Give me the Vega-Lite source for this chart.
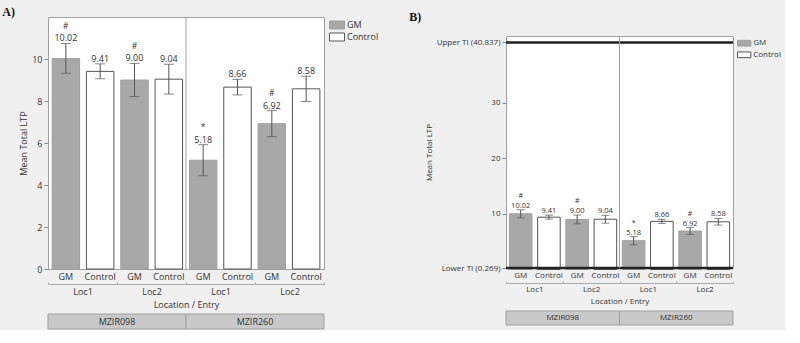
{
  "$schema": "https://vega.github.io/schema/vega-lite/v6.json",
  "background": "#f0f0f0",
  "padding": {"top": 5, "left": 1, "right": 0, "bottom": 0},
  "config": {
    "font": "Open Sans",
    "view": {"fill": "white", "stroke": "#a0a0a0"},
    "axis": {"labelColor": "#333", "titleColor": "#333", "titleFontWeight": "normal", "tickColor": "#888", "domain": false, "grid": false, "labelFont": "Open Sans", "titleFont": "Open Sans"},
    "legend": {"labelColor": "#333", "labelFont": "Open Sans"}
  },
  "datasets": {
    "ltp": [
      {"mzir": "MZIR098", "site": "MZIR098|Loc1", "bar": "MZIR098|Loc1|GM", "entry": "GM", "mean": 10.02, "lo": 9.32, "hi": 10.74, "flag": "#"},
      {"mzir": "MZIR098", "site": "MZIR098|Loc1", "bar": "MZIR098|Loc1|Control", "entry": "Control", "mean": 9.41, "lo": 9.06, "hi": 9.77, "flag": ""},
      {"mzir": "MZIR098", "site": "MZIR098|Loc2", "bar": "MZIR098|Loc2|GM", "entry": "GM", "mean": 9.00, "lo": 8.21, "hi": 9.79, "flag": "#"},
      {"mzir": "MZIR098", "site": "MZIR098|Loc2", "bar": "MZIR098|Loc2|Control", "entry": "Control", "mean": 9.04, "lo": 8.33, "hi": 9.75, "flag": ""},
      {"mzir": "MZIR260", "site": "MZIR260|Loc1", "bar": "MZIR260|Loc1|GM", "entry": "GM", "mean": 5.18, "lo": 4.44, "hi": 5.92, "flag": "*"},
      {"mzir": "MZIR260", "site": "MZIR260|Loc1", "bar": "MZIR260|Loc1|Control", "entry": "Control", "mean": 8.66, "lo": 8.29, "hi": 9.03, "flag": ""},
      {"mzir": "MZIR260", "site": "MZIR260|Loc2", "bar": "MZIR260|Loc2|GM", "entry": "GM", "mean": 6.92, "lo": 6.30, "hi": 7.54, "flag": "#"},
      {"mzir": "MZIR260", "site": "MZIR260|Loc2", "bar": "MZIR260|Loc2|Control", "entry": "Control", "mean": 8.58, "lo": 7.98, "hi": 9.18, "flag": ""}
    ],
    "limits": [
      {"limit": "Lower TI", "value": 0.269},
      {"limit": "Upper TI", "value": 40.837}
    ],
    "entries": [
      {"mzir": "MZIR098"},
      {"mzir": "MZIR260"}
    ]
  },
  "hconcat": [
    {
      "vconcat": [
        {
          "title": {"text": "A)", "orient": "left", "anchor": "end", "angle": 0, "align": "right", "baseline": "top", "font": "Liberation Serif", "fontWeight": "bold", "fontSize": 12, "color": "#111", "offset": -8, "dy": -10},
          "width": 276,
          "height": 252,
          "data": {"name": "ltp"},
          "layer": [
            {
              "layer": [
                {
                  "mark": {"type": "bar", "strokeWidth": 1},
                  "encoding": {
                    "x": {"field": "bar", "type": "nominal", "sort": null,
                      "scale": {"paddingInner": 0.2, "paddingOuter": 0.12},
                      "axis": {"orient": "bottom", "labelExpr": "split(datum.label, '|')[2]", "ticks": false, "labelAngle": 0, "labelPadding": 3, "labelFontSize": 9, "title": null}},
                    "y": {"field": "mean", "type": "quantitative", "title": "Mean Total LTP",
                      "scale": {"domain": [0, 12], "nice": false},
                      "axis": {"values": [0, 2, 4, 6, 8, 10], "tickSize": 4, "labelFontSize": 9, "titleFontSize": 9, "labelPadding": 2, "titlePadding": 3}},
                    "color": {"field": "entry", "type": "nominal", "title": null,
                      "scale": {"domain": ["GM", "Control"], "range": ["#a8a8a8", "#ffffff"]},
                      "legend": {"orient": "right", "offset": 5, "padding": 3, "symbolType": "M-1.67,-0.89H1.67V0.89H-1.67Z", "symbolSize": 81, "symbolStrokeWidth": 1, "labelFontSize": 9, "labelOffset": 5, "rowPadding": -4.3}},
                    "stroke": {"field": "entry", "type": "nominal", "title": null,
                      "scale": {"domain": ["GM", "Control"], "range": ["#a0a0a0", "#555555"]},
                      "legend": {"orient": "right", "offset": 5, "padding": 3, "symbolType": "M-1.67,-0.89H1.67V0.89H-1.67Z", "symbolSize": 81, "symbolStrokeWidth": 1, "labelFontSize": 9, "labelOffset": 5, "rowPadding": -4.3}}
                  }
                },
                {
                  "mark": {"type": "errorbar", "ticks": {"size": 10, "color": "#555"}, "rule": {"color": "#555"}},
                  "encoding": {
                    "x": {"field": "bar", "type": "nominal", "sort": null},
                    "y": {"field": "lo", "type": "quantitative", "title": "Mean Total LTP"},
                    "y2": {"field": "hi"}
                  }
                },
                {
                  "mark": {"type": "text", "dy": -2, "baseline": "alphabetic", "fontSize": 9, "color": "#333"},
                  "encoding": {
                    "x": {"field": "bar", "type": "nominal", "sort": null},
                    "y": {"field": "hi", "type": "quantitative", "title": "Mean Total LTP"},
                    "text": {"field": "mean", "type": "quantitative", "format": ".2f"}
                  }
                },
                {
                  "mark": {"type": "text", "dy": -14.5, "baseline": "alphabetic", "fontSize": 8.5, "color": "#333"},
                  "encoding": {
                    "x": {"field": "bar", "type": "nominal", "sort": null},
                    "y": {"field": "hi", "type": "quantitative", "title": "Mean Total LTP"},
                    "text": {"field": "flag", "type": "nominal"}
                  }
                }
              ]
            },
            {
              "transform": [{"filter": "datum.bar == 'MZIR260|Loc1|GM'"}],
              "mark": {"type": "rule", "color": "#a0a0a0", "strokeWidth": 1},
              "encoding": {
                "x": {"field": "site", "type": "nominal", "bandPosition": 0,
                  "scale": {"domain": ["MZIR098|Loc1", "MZIR098|Loc2", "MZIR260|Loc1", "MZIR260|Loc2"], "paddingInner": 0, "paddingOuter": 0},
                  "axis": {"orient": "bottom", "offset": 15, "labelExpr": "split(datum.label, '|')[1]", "tickBand": "extent", "tickSize": -2, "tickColor": "#aaa", "domain": true, "domainColor": "#aaa", "labelAngle": 0, "labelPadding": 5, "labelFontSize": 9, "title": "Location / Entry", "titleFontSize": 9, "titlePadding": 4}}
              }
            }
          ],
          "resolve": {"scale": {"x": "independent"}, "axis": {"x": "independent"}}
        },
        {
          "width": 276,
          "height": 15,
          "data": {"name": "entries"},
          "view": {"stroke": null, "fill": "transparent"},
          "layer": [
            {
              "mark": {"type": "rect", "fill": "#c9c9c9", "stroke": "#a0a0a0", "strokeWidth": 1},
              "encoding": {"x": {"field": "mzir", "type": "nominal", "scale": {"paddingInner": 0, "paddingOuter": 0}, "axis": null}}
            },
            {
              "mark": {"type": "text", "fontSize": 9, "color": "#333"},
              "encoding": {"x": {"field": "mzir", "type": "nominal", "axis": null}, "text": {"field": "mzir"}}
            }
          ]
        }
      ],
      "bounds": "flush",
      "spacing": 45,
      "resolve": {"legend": {"color": "independent", "stroke": "independent"}}
    },
    {
      "vconcat": [
        {
          "width": 227,
          "height": 19,
          "data": {"name": "entries"},
          "view": {"stroke": null, "fill": "transparent"},
          "mark": {"type": "text", "text": ""},
          "encoding": {}
        },
        {
          "vconcat": [
            {
              "title": {"text": "B)", "orient": "left", "anchor": "end", "angle": 0, "align": "right", "baseline": "top", "font": "Liberation Serif", "fontWeight": "bold", "fontSize": 12, "color": "#111", "offset": -8, "dy": -24},
              "width": 227,
              "height": 232,
              "layer": [
                {
                  "data": {"name": "ltp"},
                  "layer": [
                    {
                      "mark": {"type": "bar", "strokeWidth": 1},
                      "encoding": {
                        "x": {"field": "bar", "type": "nominal", "sort": null,
                          "scale": {"paddingInner": 0.2, "paddingOuter": 0.12},
                          "axis": {"orient": "bottom", "labelExpr": "split(datum.label, '|')[2]", "ticks": false, "labelAngle": 0, "labelPadding": 3, "labelFontSize": 8, "title": null}},
                        "y": {"field": "mean", "type": "quantitative", "title": "Mean Total LTP",
                          "scale": {"domain": [0.269, 42], "nice": false, "zero": false},
                          "axis": {"values": [0.269, 5, 10, 15, 20, 25, 30, 35, 40.837], "labelExpr": "datum.value == 0.269 ? 'Lower TI (0.269)' : datum.value == 40.837 ? 'Upper TI (40.837)' : datum.label", "tickSize": 4, "labelFontSize": 8, "titleFontSize": 8, "labelPadding": 2, "titlePadding": 3}},
                        "color": {"field": "entry", "type": "nominal", "title": null,
                          "scale": {"domain": ["GM", "Control"], "range": ["#a8a8a8", "#ffffff"]},
                          "legend": {"orient": "right", "offset": 4, "padding": 2.2, "symbolType": "M-1.48,-0.63H1.48V0.63H-1.48Z", "symbolSize": 81, "symbolStrokeWidth": 1, "labelFontSize": 8, "labelOffset": 4, "rowPadding": 1.6}},
                        "stroke": {"field": "entry", "type": "nominal", "title": null,
                          "scale": {"domain": ["GM", "Control"], "range": ["#a0a0a0", "#555555"]},
                          "legend": {"orient": "right", "offset": 4, "padding": 2.2, "symbolType": "M-1.48,-0.63H1.48V0.63H-1.48Z", "symbolSize": 81, "symbolStrokeWidth": 1, "labelFontSize": 8, "labelOffset": 4, "rowPadding": 1.6}}
                      }
                    },
                    {
                      "mark": {"type": "errorbar", "ticks": {"size": 8, "color": "#555"}, "rule": {"color": "#555"}},
                      "encoding": {
                        "x": {"field": "bar", "type": "nominal", "sort": null},
                        "y": {"field": "lo", "type": "quantitative", "title": "Mean Total LTP"},
                        "y2": {"field": "hi"}
                      }
                    },
                    {
                      "mark": {"type": "text", "dy": -2, "baseline": "alphabetic", "fontSize": 7.5, "color": "#333"},
                      "encoding": {
                        "x": {"field": "bar", "type": "nominal", "sort": null},
                        "y": {"field": "hi", "type": "quantitative", "title": "Mean Total LTP"},
                        "text": {"field": "mean", "type": "quantitative", "format": ".2f"}
                      }
                    },
                    {
                      "mark": {"type": "text", "dy": -12, "baseline": "alphabetic", "fontSize": 7, "color": "#333"},
                      "encoding": {
                        "x": {"field": "bar", "type": "nominal", "sort": null},
                        "y": {"field": "hi", "type": "quantitative", "title": "Mean Total LTP"},
                        "text": {"field": "flag", "type": "nominal"}
                      }
                    },
                    {
                      "data": {"name": "limits"},
                      "mark": {"type": "rule", "color": "#222", "strokeWidth": 2.5},
                      "encoding": {"y": {"field": "value", "type": "quantitative", "title": "Mean Total LTP"}}
                    }
                  ]
                },
                {
                  "data": {"name": "ltp"},
                  "transform": [{"filter": "datum.bar == 'MZIR260|Loc1|GM'"}],
                  "mark": {"type": "rule", "color": "#a0a0a0", "strokeWidth": 1},
                  "encoding": {
                    "x": {"field": "site", "type": "nominal", "bandPosition": 0,
                      "scale": {"domain": ["MZIR098|Loc1", "MZIR098|Loc2", "MZIR260|Loc1", "MZIR260|Loc2"], "paddingInner": 0, "paddingOuter": 0},
                      "axis": {"orient": "bottom", "offset": 15, "labelExpr": "split(datum.label, '|')[1]", "tickBand": "extent", "tickSize": -2, "tickColor": "#aaa", "domain": true, "domainColor": "#aaa", "labelAngle": 0, "labelPadding": 4, "labelFontSize": 8, "title": "Location / Entry", "titleFontSize": 8, "titlePadding": 4}}
                  }
                }
              ],
              "resolve": {"scale": {"x": "independent"}, "axis": {"x": "independent"}}
            },
            {
              "width": 227,
              "height": 14,
              "data": {"name": "entries"},
              "view": {"stroke": null, "fill": "transparent"},
              "layer": [
                {
                  "mark": {"type": "rect", "fill": "#c9c9c9", "stroke": "#a0a0a0", "strokeWidth": 1},
                  "encoding": {"x": {"field": "mzir", "type": "nominal", "scale": {"paddingInner": 0, "paddingOuter": 0}, "axis": null}}
                },
                {
                  "mark": {"type": "text", "fontSize": 8, "color": "#333"},
                  "encoding": {"x": {"field": "mzir", "type": "nominal", "axis": null}, "text": {"field": "mzir"}}
                }
              ]
            }
          ],
          "bounds": "flush",
          "spacing": 43,
          "resolve": {"legend": {"color": "independent", "stroke": "independent"}}
        }
      ],
      "bounds": "flush",
      "spacing": 0,
      "resolve": {"legend": {"color": "independent", "stroke": "independent"}}
    }
  ],
  "spacing": 25,
  "resolve": {"legend": {"color": "independent", "stroke": "independent"}}
}
